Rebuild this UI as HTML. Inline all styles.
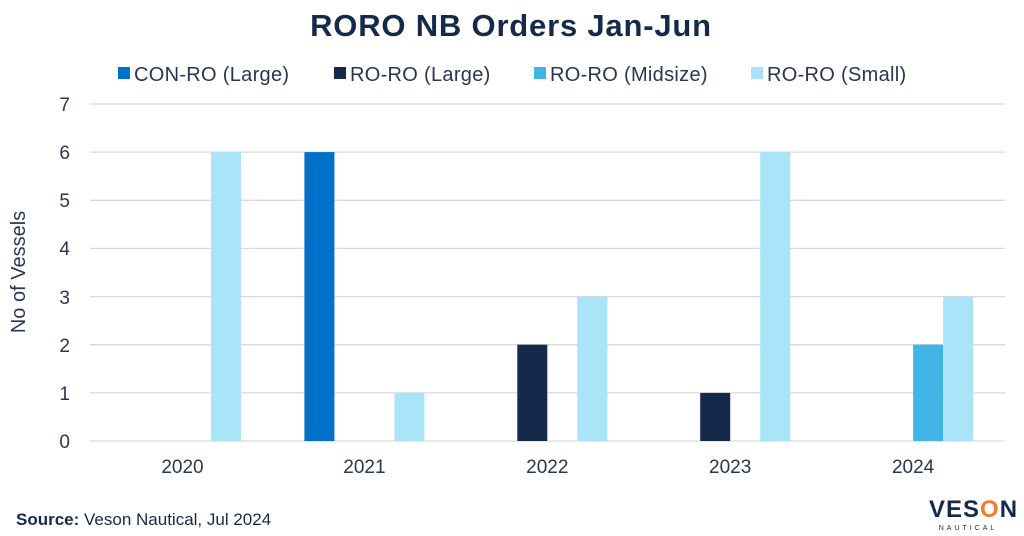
<!DOCTYPE html>
<html><head><meta charset="utf-8"><style>
body{margin:0;background:#fff;}
svg{display:block;font-family:"Liberation Sans",sans-serif;}
</style></head><body>
<svg width="1024" height="536" viewBox="0 0 1024 536">
<text x="511" y="36" text-anchor="middle" font-size="31" font-weight="bold" fill="#152a4a" letter-spacing="0.8">RORO NB Orders Jan-Jun</text>
<g font-size="20" fill="#2a3550" letter-spacing="0.3">
<rect x="118" y="67" width="12" height="12" fill="#0070c8"/><text x="134" y="81">CON-RO (Large)</text>
<rect x="334" y="67" width="12" height="12" fill="#152a4a"/><text x="350" y="81">RO-RO (Large)</text>
<rect x="534" y="67" width="12" height="12" fill="#41b6e6"/><text x="550" y="81">RO-RO (Midsize)</text>
<rect x="751" y="67" width="12" height="12" fill="#a9e4f8"/><text x="767" y="81">RO-RO (Small)</text>
</g>
<g stroke="#d9d9d9" stroke-width="1.3">
<line x1="90" x2="1005" y1="104" y2="104"/><line x1="90" x2="1005" y1="152.1" y2="152.1"/>
<line x1="90" x2="1005" y1="200.3" y2="200.3"/><line x1="90" x2="1005" y1="248.4" y2="248.4"/>
<line x1="90" x2="1005" y1="296.6" y2="296.6"/><line x1="90" x2="1005" y1="344.7" y2="344.7"/>
<line x1="90" x2="1005" y1="392.9" y2="392.9"/><line x1="90" x2="1005" y1="441" y2="441"/>
</g>
<g font-size="19" fill="#2a3550" text-anchor="end">
<text x="70" y="111">7</text><text x="70" y="159">6</text><text x="70" y="207">5</text><text x="70" y="255">4</text>
<text x="70" y="304">3</text><text x="70" y="352">2</text><text x="70" y="400">1</text><text x="70" y="448">0</text>
</g>
<text transform="translate(25,272) rotate(-90)" text-anchor="middle" font-size="20" fill="#2a3550">No of Vessels</text>
<g>
<rect x="211" y="152.1" width="30" height="288.9" fill="#a9e4f8"/>
<rect x="304.4" y="152.1" width="30" height="288.9" fill="#0070c8"/>
<rect x="394.4" y="392.9" width="30" height="48.1" fill="#a9e4f8"/>
<rect x="517.3" y="344.7" width="30" height="96.3" fill="#152a4a"/>
<rect x="577.3" y="296.6" width="30" height="144.4" fill="#a9e4f8"/>
<rect x="700.2" y="392.9" width="30" height="48.1" fill="#152a4a"/>
<rect x="760.2" y="152.1" width="30" height="288.9" fill="#a9e4f8"/>
<rect x="913.1" y="344.7" width="30" height="96.3" fill="#41b6e6"/>
<rect x="943.1" y="296.6" width="30" height="144.4" fill="#a9e4f8"/>
</g>
<g font-size="19" fill="#2a3550" text-anchor="middle">
<text x="182.5" y="473">2020</text><text x="364.4" y="473">2021</text><text x="547.3" y="473">2022</text>
<text x="730.2" y="473">2023</text><text x="913.1" y="473">2024</text>
</g>
<text x="16" y="525" font-size="17" fill="#152a4a"><tspan font-weight="bold">Source:</tspan> Veson Nautical, Jul 2024</text>
<text x="929" y="517" font-size="24" font-weight="bold" fill="#152a4a" letter-spacing="1">VES<tspan fill="#f47b2a">O</tspan>N</text>
<text x="968" y="530" font-size="7" fill="#152a4a" text-anchor="middle" letter-spacing="3">NAUTICAL</text>
</svg>
</body></html>
